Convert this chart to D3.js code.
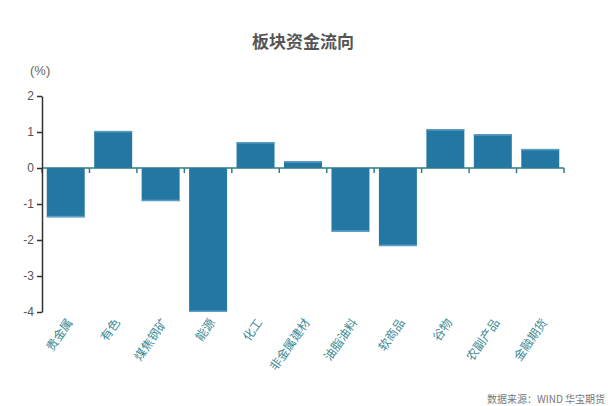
<!DOCTYPE html>
<html>
<head>
<meta charset="utf-8">
<script src="https://cdn.jsdelivr.net/npm/d3@7"></script>
<style>
  body { margin: 0; background: #fff; }
  svg { display: block; font-family: "Noto Sans CJK SC", "Noto Sans", sans-serif; }
</style>
</head>
<body>
<div id="chart"></div>
<script>
// ----- Data -----
const categories = ["贵金属", "有色", "煤焦钢矿", "能源", "化工", "非金属建材", "油脂油料", "软商品", "谷物", "农副产品", "金融期货"];
const values     = [-1.37, 1.03, -0.92, -4.0, 0.72, 0.19, -1.77, -2.17, 1.08, 0.94, 0.53];
const yTicks     = [-4, -3, -2, -1, 0, 1, 2];

const width  = 608;
const height = 406;
const margin = { top: 96, right: 44, bottom: 94, left: 42 };
const innerWidth  = width - margin.left - margin.right;
const innerHeight = height - margin.top - margin.bottom;

const barColor  = "#2277a3";
const edgeColor = "#5f9ec3";
const teal      = "#2f7d8a";

const svg = d3.select("#chart")
  .append("svg")
  .attr("width", width)
  .attr("height", height);

const g = svg.append("g")
  .attr("transform", `translate(${margin.left},${margin.top})`);

const x = d3.scaleBand()
  .domain(categories)
  .range([0, innerWidth])
  .paddingInner(0.2)
  .paddingOuter(0.1);

const y = d3.scaleLinear()
  .domain([-4, 2])
  .range([innerHeight, 0]);

const step = x.step();
const edgeOffset = step * 0.1;

// bars
const data = categories.map((c, i) => ({ cat: c, value: values[i] }));

g.selectAll(".bar")
  .data(data)
  .enter()
  .append("rect")
  .attr("class", "bar")
  .attr("x", d => x(d.cat))
  .attr("width", x.bandwidth())
  .attr("y", d => y(Math.max(0, d.value)))
  .attr("height", d => Math.abs(y(d.value) - y(0)))
  .attr("fill", barColor);

// lighter strip at the bar end
g.selectAll(".bar-edge")
  .data(data)
  .enter()
  .append("rect")
  .attr("class", "bar-edge")
  .attr("x", d => x(d.cat))
  .attr("width", x.bandwidth())
  .attr("y", d => d.value >= 0 ? y(d.value) : y(d.value) - 1.5)
  .attr("height", 1.5)
  .attr("fill", edgeColor);

// zero line + ticks at band edges
g.append("line")
  .attr("x1", 0)
  .attr("x2", innerWidth)
  .attr("y1", y(0))
  .attr("y2", y(0))
  .attr("stroke", teal)
  .attr("stroke-width", 1.5);

const edges = d3.range(categories.length + 1).map(i => i === 0 ? 0 : x(categories[i - 1]) + x.bandwidth() + edgeOffset);

g.selectAll(".xtick")
  .data(edges)
  .enter()
  .append("line")
  .attr("x1", d => d)
  .attr("x2", d => d)
  .attr("y1", y(0))
  .attr("y2", y(0) + 5)
  .attr("stroke", teal)
  .attr("stroke-width", 1.5);

// y axis
const yAxis = g.append("g")
  .call(d3.axisLeft(y).tickValues(yTicks).tickSize(5).tickSizeOuter(0).tickFormat(d => String(d).replace("−", "-")));

yAxis.select(".domain").attr("stroke", "#333").attr("stroke-width", 1.5);
yAxis.selectAll(".tick line").attr("stroke", "#333").attr("stroke-width", 1.5);
yAxis.selectAll(".tick text")
  .attr("fill", "#555")
  .attr("font-size", 12)
  .attr("x", -8)
  .style("font-family", "'Liberation Sans', Arial, sans-serif");

// x labels
g.selectAll(".xlabel")
  .data(categories)
  .enter()
  .append("text")
  .attr("class", "xlabel")
  .attr("transform", d => `translate(${x(d) + x.bandwidth() / 2 + 4},${innerHeight + 8}) rotate(-55)`)
  .attr("text-anchor", "end")
  .attr("dy", "0.35em")
  .attr("font-size", 12)
  .attr("fill", "#3d8a94")
  .text(d => d);

// title
svg.append("text")
  .attr("x", 303)
  .attr("y", 48)
  .attr("text-anchor", "middle")
  .attr("font-size", 17)
  .attr("font-weight", "bold")
  .attr("fill", "#555")
  .text("板块资金流向");

// unit
svg.append("text")
  .attr("x", 30)
  .attr("y", 75)
  .attr("font-size", 13)
  .attr("fill", "#666")
  .style("font-family", "'Liberation Sans', Arial, sans-serif")
  .text("(%)");

// source
svg.append("text")
  .attr("x", 605)
  .attr("y", 403)
  .attr("text-anchor", "end")
  .attr("font-size", 10)
  .attr("fill", "#777")
  .text("数据来源：WIND 华宝期货");
</script>
</body>
</html>
